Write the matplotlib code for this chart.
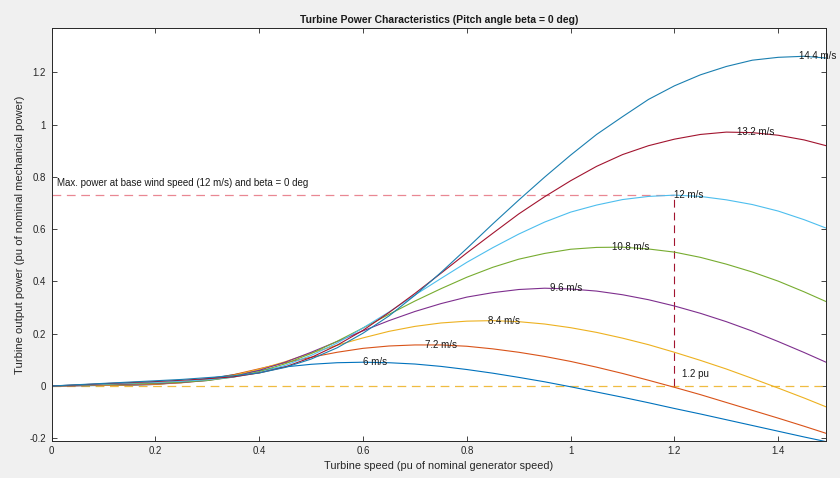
import matplotlib
matplotlib.use("Agg")
import matplotlib.pyplot as plt
import numpy as np

# turbine speed (pu of nominal generator speed)
speed = [0, 0.05, 0.1, 0.15, 0.2, 0.25, 0.3, 0.35, 0.4, 0.45, 0.5, 0.55, 0.6, 0.65, 0.7,
         0.75, 0.8, 0.85, 0.9, 0.95, 1.0, 1.05, 1.1, 1.15, 1.2, 1.25, 1.3, 1.35, 1.4, 1.45, 1.5]

# output power (pu) for each wind speed
p_6 = [0, 0.001, 0.002, 0.003, 0.006, 0.015, 0.028, 0.043, 0.059, 0.073, 0.083, 0.089, 0.091, 0.089, 0.084,
       0.075, 0.063, 0.049, 0.033, 0.016, -0.003, -0.023, -0.043, -0.064, -0.086, -0.107, -0.129, -0.151, -0.173, -0.195, -0.216]
p_7_2 = [0, 0.001, 0.003, 0.004, 0.006, 0.013, 0.025, 0.043, 0.066, 0.089, 0.110, 0.129, 0.144, 0.153, 0.157,
         0.157, 0.152, 0.142, 0.129, 0.113, 0.094, 0.072, 0.048, 0.022, -0.005, -0.033, -0.063, -0.093, -0.123, -0.154, -0.186]
p_8_4 = [0, 0.002, 0.003, 0.005, 0.008, 0.012, 0.022, 0.040, 0.064, 0.093, 0.126, 0.156, 0.184, 0.209, 0.228,
         0.241, 0.248, 0.250, 0.246, 0.237, 0.223, 0.205, 0.183, 0.158, 0.129, 0.098, 0.065, 0.029, -0.008, -0.046, -0.086]
p_9_6 = [0, 0.002, 0.005, 0.007, 0.009, 0.013, 0.021, 0.036, 0.060, 0.091, 0.129, 0.170, 0.211, 0.250, 0.285,
         0.315, 0.340, 0.357, 0.369, 0.374, 0.371, 0.363, 0.349, 0.330, 0.306, 0.278, 0.246, 0.210, 0.170, 0.128, 0.084]
p_10_8 = [0, 0.003, 0.006, 0.009, 0.011, 0.015, 0.021, 0.034, 0.055, 0.085, 0.124, 0.171, 0.222, 0.274, 0.325,
          0.372, 0.416, 0.454, 0.485, 0.507, 0.523, 0.530, 0.531, 0.524, 0.512, 0.492, 0.466, 0.436, 0.401, 0.360, 0.316]
p_12 = [0, 0.004, 0.007, 0.011, 0.014, 0.018, 0.024, 0.034, 0.051, 0.079, 0.117, 0.164, 0.222, 0.283, 0.348,
        0.411, 0.473, 0.529, 0.581, 0.627, 0.665, 0.692, 0.713, 0.725, 0.730, 0.725, 0.712, 0.694, 0.669, 0.636, 0.598]
p_13_2 = [0, 0.004, 0.009, 0.013, 0.017, 0.022, 0.028, 0.035, 0.050, 0.073, 0.109, 0.156, 0.213, 0.281, 0.354,
          0.431, 0.509, 0.584, 0.658, 0.724, 0.785, 0.840, 0.885, 0.919, 0.944, 0.962, 0.971, 0.969, 0.959, 0.941, 0.915]
p_14_4 = [0, 0.005, 0.010, 0.015, 0.020, 0.025, 0.032, 0.039, 0.050, 0.071, 0.103, 0.146, 0.202, 0.268, 0.347,
          0.434, 0.526, 0.620, 0.711, 0.799, 0.883, 0.962, 1.030, 1.096, 1.148, 1.190, 1.222, 1.246, 1.257, 1.261, 1.253]

wind_labels = ["6 m/s", "7.2 m/s", "8.4 m/s", "9.6 m/s", "10.8 m/s", "12 m/s", "13.2 m/s", "14.4 m/s"]
curves = [p_6, p_7_2, p_8_4, p_9_6, p_10_8, p_12, p_13_2, p_14_4]

# max power point of each curve (where the labels sit)
peak_speed = [0.6, 0.72, 0.84, 0.96, 1.08, 1.2, 1.32, 1.44]
peak_power = [0.091, 0.158, 0.250, 0.374, 0.532, 0.730, 0.972, 1.261]

base_speed = 1.2
base_power = 0.73

colors = ["#0072BD", "#D95319", "#EDB120", "#7E2F8E", "#77AC30", "#4DBEEE", "#A2142F", "#1a7fb0"]

plt.rcParams['font.family'] = ['Liberation Sans', 'DejaVu Sans']
plt.rcParams['axes.unicode_minus'] = False

fig = plt.figure(figsize=(8.4, 4.78), dpi=100, facecolor="#f0f0f0")
ax = fig.add_axes([0.0615, 0.0776, 0.9218, 0.8632])

dash = (0, (7, 4.5))
ax.plot([0, 1.5], [0, 0], color="#EDB120", lw=0.9, ls=dash, alpha=0.85)
ax.plot([0, base_speed], [base_power, base_power], color="#e05566", lw=0.9, ls=dash, alpha=0.7)
ax.plot([base_speed, base_speed], [0, base_power], color="#A2142F", lw=0.8, ls=dash)

for p, c in zip(curves, colors):
    ax.plot(speed, p, color=c, lw=0.8)

for xs, ys, lab in zip(peak_speed, peak_power, wind_labels):
    ax.text(xs, ys, lab, fontsize=7, ha="left", va="center", color="#1a1a1a")

ax.text(0.011, base_power + 0.045, "Max. power at base wind speed (12 m/s) and beta = 0 deg",
        fontsize=7, ha="left", va="center", color="#1a1a1a")
ax.text(base_speed + 0.014, 0.045, "1.2 pu", fontsize=7, ha="left", va="center", color="#1a1a1a")

ax.set_xlim(0, 1.492)
ax.set_ylim(-0.21, 1.368)
ax.set_xticks([0, 0.2, 0.4, 0.6, 0.8, 1.0, 1.2, 1.4])
ax.set_xticklabels(["0", "0.2", "0.4", "0.6", "0.8", "1", "1.2", "1.4"])
ax.set_yticks([-0.2, 0, 0.2, 0.4, 0.6, 0.8, 1.0, 1.2])
ax.set_yticklabels(["-0.2", "0", "0.2", "0.4", "0.6", "0.8", "1", "1.2"])
ax.tick_params(direction="in", length=3.5, width=0.6, top=True, right=True,
               labelsize=7, colors="#262626", pad=4)
for s in ax.spines.values():
    s.set_color("#262626")
    s.set_linewidth(0.7)

ax.set_xlabel("Turbine speed (pu of nominal generator speed)", fontsize=7.8, color="#262626", labelpad=3)
ax.set_ylabel("Turbine output power (pu of nominal mechanical power)", fontsize=8.1, color="#262626", labelpad=3)
ax.set_title("Turbine Power Characteristics (Pitch angle beta = 0 deg)", fontsize=7.5,
             fontweight="bold", color="#1a1a1a", pad=4)

fig.savefig("out.png", dpi=100, facecolor=fig.get_facecolor())
